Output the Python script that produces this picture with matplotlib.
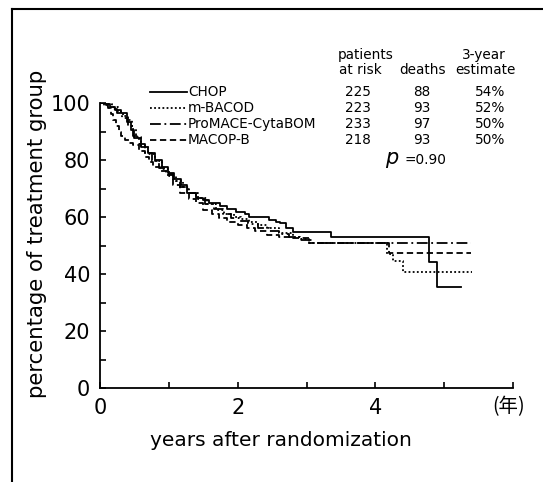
import matplotlib
matplotlib.use("Agg")
import matplotlib.pyplot as plt
from matplotlib.lines import Line2D

W, H = 543, 482

# ---- data ----
groups = ["CHOP", "m-BACOD", "ProMACE-CytaBOM", "MACOP-B"]
at_risk = ["225", "223", "233", "218"]
deaths = ["88", "93", "97", "93"]
estimate = ["54%", "52%", "50%", "50%"]

chop_t = [0, .08, .14, .22, .31, .39, .45, .5, .6, .7, .8, .9, .99, 1.08, 1.18, 1.26, 1.4, 1.5, 1.59,
          1.75, 1.85, 1.98, 2.1, 2.17, 2.46, 2.56, 2.61, 2.7, 2.8, 3.36, 4.78, 4.9, 5.24]
chop_s = [100, 99.5, 98.7, 97.5, 96.4, 93.4, 90.5, 87.6, 84.7, 82.3, 80.0, 77.6, 75.3, 73.2, 71.2, 68.3,
          66.8, 66.0, 64.8, 63.8, 62.8, 61.9, 61.0, 60.1, 59.0, 58.4, 57.8, 56.2, 54.8, 53.1, 44.3, 35.5, 35.5]

mbacod_t = [0, .1, .18, .26, .34, .4, .46, .52, .6, .7, .8, .9, 1.0, 1.1, 1.2, 1.3, 1.42, 1.55, 1.69, 1.8,
            1.95, 2.05, 2.17, 2.3, 2.42, 2.6, 2.8, 2.92, 3.04, 4.17, 4.25, 4.4, 5.41]
mbacod_s = [100, 99.6, 98.5, 97.0, 95.6, 94.0, 91.0, 88.0, 85.0, 82.0, 79.5, 77.0, 74.5, 72.5, 70.5, 68.5,
            66.5, 64.5, 62.5, 61.0, 60.0, 59.2, 58.4, 57.2, 56.0, 54.5, 53.1, 52.2, 51.0, 47.0, 44.5, 40.8, 40.8]

promace_t = [0, .08, .16, .24, .32, .4, .48, .56, .66, .76, .86, .96, 1.06, 1.16, 1.28, 1.4, 1.52, 1.65,
             1.78, 1.9, 2.02, 2.15, 2.3, 2.45, 2.6, 2.75, 2.9, 3.1, 5.39]
promace_s = [100, 99.2, 98.0, 96.5, 94.8, 92.0, 88.5, 85.5, 82.5, 79.8, 77.2, 75.0, 72.8, 70.6, 68.4, 66.4,
             64.6, 62.8, 61.2, 59.8, 58.6, 57.4, 56.2, 55.0, 54.0, 53.0, 52.0, 51.0, 51.0]

macopb_t = [0, .06, .12, .16, .19, .23, .27, .31, .36, .42, .48, .56, .65, .71, .77, .87, .97, 1.06, 1.16,
            1.3, 1.4, 1.5, 1.62, 1.73, 1.84, 2.0, 2.13, 2.25, 2.42, 2.6, 2.8, 3.04, 4.2, 5.39]
macopb_s = [100, 99.0, 98.1, 96.0, 94.0, 92.0, 90.0, 88.4, 87.0, 86.0, 85.3, 83.2, 81.2, 79.4, 77.6, 76.0,
            74.7, 71.2, 68.3, 66.2, 64.8, 62.5, 61.0, 59.6, 58.4, 57.2, 56.0, 55.0, 53.7, 53.0, 52.5, 50.8,
            47.5, 47.5]

x_ticks = [0, 1, 2, 3, 4, 5, 6]
x_labels = ["0", "", "2", "", "4", "", ""]
y_ticks = [0, 10, 20, 30, 40, 50, 60, 70, 80, 90, 100]
y_labels = ["0", "", "20", "", "40", "", "60", "", "80", "", "100"]

series_t = [chop_t, mbacod_t, promace_t, macopb_t]
series_s = [chop_s, mbacod_s, promace_s, macopb_s]
styles = ["-", (0, (1, 1.3)), (0, (6, 2, 1, 2)), (0, (3.5, 2))]

plt.rcParams['font.family'] = ['DejaVu Sans', 'Noto Sans CJK JP']


def fx(px):
    return px / W


def fy(py):
    return 1 - py / H


fig = plt.figure(figsize=(W / 100, H / 100), dpi=100)
fig.patch.set_facecolor("white")

# outer frame (left and top edges visible)
fig.add_artist(Line2D([fx(12), fx(12)], [0, fy(9)], color="black", lw=1.5))
fig.add_artist(Line2D([fx(12), 1], [fy(9), fy(9)], color="black", lw=1.5))

ax = fig.add_axes([fx(100), fy(388), (513 - 100) / W, (388 - 103) / H])
for t, s, ls in zip(series_t, series_s, styles):
    ax.plot(t, s, drawstyle="steps-post", color="black", lw=1.3, linestyle=ls)

ax.set_xlim(0, 6)
ax.set_ylim(0, 100)
ax.spines["top"].set_visible(False)
ax.spines["right"].set_visible(False)
ax.spines["left"].set_linewidth(1.3)
ax.spines["bottom"].set_linewidth(1.3)
ax.set_xticks(x_ticks)
ax.set_xticklabels(x_labels)
ax.set_yticks(y_ticks)
ax.set_yticklabels(y_labels)
ax.tick_params(axis="both", direction="in", length=4, width=1.2, labelsize=15, pad=7, colors="black")
ax.set_facecolor("white")

fig.text(fx(509), fy(407), "(年)", fontsize=14, ha="center", va="center",
         family=['Noto Sans CJK JP', 'DejaVu Sans'])
fig.text(fx(281), fy(440), "years after randomization", fontsize=14.5, ha="center", va="center")
fig.text(fx(37), fy(234), "percentage of treatment group", fontsize=15.3, ha="center", va="center",
         rotation=90)

# legend / table
row_y = [92, 108, 124, 140]
fs = 9.8
for name, ar, de, es, ls, yy in zip(groups, at_risk, deaths, estimate, styles, row_y):
    fig.add_artist(Line2D([fx(150), fx(187)], [fy(yy), fy(yy)], color="black", lw=1.3, linestyle=ls))
    fig.text(fx(188), fy(yy), name, fontsize=fs, ha="left", va="center")
    fig.text(fx(358), fy(yy), ar, fontsize=fs, ha="center", va="center")
    fig.text(fx(422), fy(yy), de, fontsize=fs, ha="center", va="center")
    fig.text(fx(490), fy(yy), es, fontsize=fs, ha="center", va="center")

fig.text(fx(366), fy(55), "patients", fontsize=fs, ha="center", va="center")
fig.text(fx(360), fy(70), "at risk", fontsize=fs, ha="center", va="center")
fig.text(fx(423), fy(70), "deaths", fontsize=fs, ha="center", va="center")
fig.text(fx(484), fy(55), "3-year", fontsize=fs, ha="center", va="center")
fig.text(fx(485), fy(70), "estimate", fontsize=fs, ha="center", va="center")
fig.text(fx(392), fy(160), "$p$", fontsize=15, ha="center", va="center")
fig.text(fx(405), fy(160), "=0.90", fontsize=fs, ha="left", va="center")

fig.savefig("out.png", dpi=100, facecolor="white")
